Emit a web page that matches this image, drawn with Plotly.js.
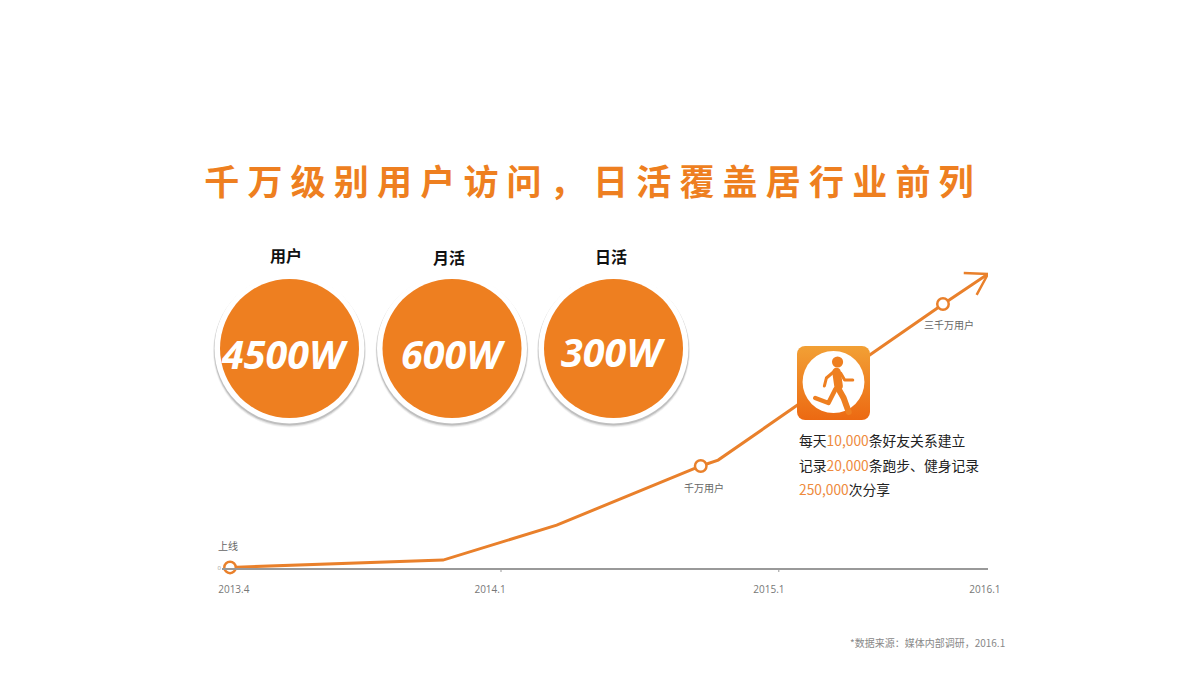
<!DOCTYPE html>
<html><head><meta charset="utf-8">
<script src="https://cdn.plot.ly/plotly-3.0.1.min.js"></script>
<style>
html,body{margin:0;padding:0;background:#fff}
.gtitle{letter-spacing:8.2px !important}
</style></head><body><div id="c" style="width:1200px;height:675px"></div>
<script>
const titleText = '千万级别用户访问\uFF0C日活覆盖居行业前列';
const footnote = '*数据来源\uFF1A媒体内部调研\uFF0C2016.1';
const lineX = [0, 28.1, 43.1, 62.1, 64.4, 94.1, 100];
const lineY = [0.2, 2.7, 14.6, 34.7, 36.7, 89.8, 100];
const milestoneX = [0, 62.1, 94.06];
const milestoneY = [0.2, 34.7, 89.8];
const milestoneLabels = ['上线', '千万用户', '三千万用户'];
const arrowX = [96.8, 100, 98.5];
const arrowY = [100.3, 100, 92.9];
const tickPositions = [0.5, 34.3, 71.1, 99.6];
const tickLabels = ['2013.4', '2014.1', '2015.1', '2016.1'];
const tickMarks = [35.75, 72.4];
const kpiNames = ['用户', '月活', '日活'];
const kpiValues = ['4500W', '600W', '300W'];
const orange = '#ee7f20', lineCol = '#e9802b';
const px = x => x / 1200, py = y => 1 - y / 675;

const runner = `<svg xmlns="http://www.w3.org/2000/svg" width="216" height="222" viewBox="0 0 72 74">
<defs><linearGradient id="g" x1="0" y1="0" x2="0" y2="1"><stop offset="0" stop-color="#f2a035"/><stop offset="1" stop-color="#ec6912"/></linearGradient></defs>
<rect width="72" height="74" rx="8" fill="url(#g)"/>
<ellipse cx="36" cy="36" rx="30.5" ry="31" fill="#fff"/>
<circle cx="40" cy="16" r="5.5" fill="#ee7f20"/>
<g stroke="#ee7f20" fill="none" stroke-linecap="round" stroke-linejoin="round">
<path d="M39 26 L41 40" stroke-width="8.5"/>
<path d="M36 26 L29 32 L27 40" stroke-width="3"/>
<path d="M43 27 L47 34 L55 34" stroke-width="3"/>
<path d="M38 43 L31 57 L18 52" stroke-width="4.5"/>
<path d="M41 43 L46 52 L51 66" stroke-width="6"/>
</g></svg>`;

const circles = [[289.5, 348.5], [452, 348.5], [613.5, 348.5]];
const shapes = [];
circles.forEach(([cx, cy]) => {
  const circ = (r, dy, fill, op) => shapes.push({type:'circle', xref:'paper', yref:'paper', layer:'below',
    x0:px(cx-r), x1:px(cx+r), y0:py(cy+dy+r), y1:py(cy+dy-r), fillcolor:fill, opacity:op, line:{width:0}});
  circ(76.5, 2.5, '#000', 0.05); circ(76, 2, '#000', 0.08); circ(75.5, 1.5, '#000', 0.14);
  circ(75, 0, '#fff', 1);
  circ(69.5, 0, orange, 1);
});
tickMarks.forEach(t => shapes.push({type:'line', xref:'x', yref:'paper', x0:t, x1:t,
  y0:py(568), y1:py(572), line:{color:'#999', width:1}}));

const kpiLabelPos = [[286, 255], [449, 257], [611, 256]];
const kpiValuePos = [[285, 354], [453, 354], [613, 352]];
const ann = [];
const txt = (text, x, y, font, anchor) => ann.push({text, xref:'paper', yref:'paper', x:px(x), y:py(y),
  xanchor:anchor||'center', yanchor:'middle', showarrow:false, font});
const cjk = '"Noto Sans CJK SC"';
kpiNames.forEach((n,i) => txt('<b>'+n+'</b>', kpiLabelPos[i][0], kpiLabelPos[i][1], {family:cjk, size:16, color:'#111'}));
kpiValues.forEach((n,i) => txt('<b><i>'+n+'</i></b>', kpiValuePos[i][0], kpiValuePos[i][1], {family:'"Open Sans"', size:39.5, color:'#fff'}));
const small = {family:cjk, size:10, color:'#666'};
txt(milestoneLabels[0], 228, 545, small);
txt(milestoneLabels[1], 704, 487, small);
txt(milestoneLabels[2], 949, 325, small);
const hi = s => '<span style="color:#ee8a3c">'+s+'</span>';
const body = {family:cjk, size:13.8, color:'#222'};
txt('每天'+hi('10,000')+'条好友关系建立', 797, 440, body, 'left');
txt('记录'+hi('20,000')+'条跑步、健身记录', 797, 465, body, 'left');
txt(hi('250,000')+'次分享', 797, 489, body, 'left');
txt(footnote, 1007, 642, {family:cjk, size:10, color:'#888'}, 'right');

const traces = [
 {x:lineX, y:lineY, mode:'lines', line:{color:lineCol, width:3}, cliponaxis:false, hoverinfo:'skip'},
 {x:arrowX, y:arrowY, mode:'lines', line:{color:lineCol, width:2.5}, cliponaxis:false, hoverinfo:'skip'},
 {x:milestoneX, y:milestoneY, mode:'markers', cliponaxis:false, hoverinfo:'skip',
  marker:{size:11.5, color:'#fff', line:{color:lineCol, width:2.5}}}
];

const layout = {
  width:1200, height:675, margin:{l:0,r:0,t:0,b:0}, showlegend:false,
  paper_bgcolor:'#fff', plot_bgcolor:'#fff',
  title:{text:titleText, font:{family:cjk, size:35, color:orange, weight:700}, x:px(593), xanchor:'center', y:py(183), yanchor:'middle'},
  xaxis:{domain:[px(222), px(988)], range:[-1.06,100], showgrid:false, zeroline:false, showline:true, linecolor:'#999', linewidth:1.5,
    tickmode:'array', tickvals:tickPositions, ticktext:tickLabels, ticks:'', tickfont:{family:'"Open Sans"', size:10, color:'#777'}, ticklabelstandoff:11},
  yaxis:{domain:[py(568), py(568-105*2.94)], range:[0,105], showgrid:false, zeroline:false, showline:false,
    tickmode:'array', tickvals:[0], ticktext:['0'], ticks:'', tickfont:{family:'"Open Sans"', size:6, color:'#999'}},
  shapes, annotations:ann,
  images:[{source:'data:image/svg+xml;utf8,'+encodeURIComponent(runner), xref:'paper', yref:'paper',
    x:px(797), y:py(346), sizex:73/1200, sizey:74/675, sizing:'stretch', xanchor:'left', yanchor:'top', layer:'above'}]
};
Plotly.newPlot('c', traces, layout, {displayModeBar:false, staticPlot:true});
</script></body></html>
